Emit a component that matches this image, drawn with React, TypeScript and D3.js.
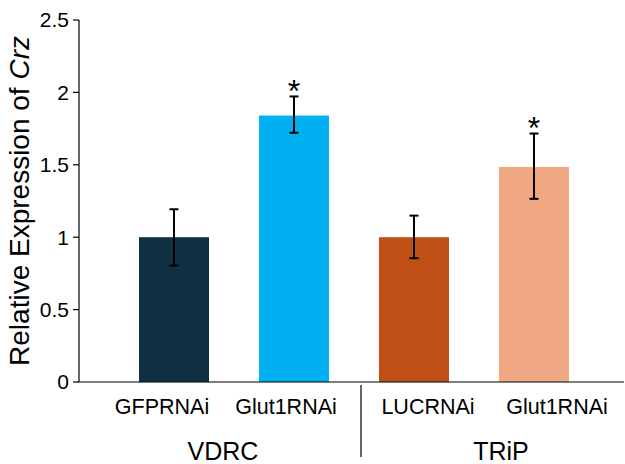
import React from "react";
import * as d3 from "d3";

const categories = ["GFPRNAi", "Glut1RNAi", "LUCRNAi", "Glut1RNAi"];
const values = [1.0, 1.84, 1.0, 1.485];
const errLow = [0.804, 1.721, 0.855, 1.265];
const errHigh = [1.193, 1.972, 1.149, 1.716];
const significant = [false, true, false, true];
const groups = ["VDRC", "TRiP"];
const groupMembers = [[0, 1], [2, 3]];
const yTicks = [0, 0.5, 1, 1.5, 2, 2.5];
const colors = ["#0E3042", "#00B0F0", "#C04F15", "#F1A983"];

const W = 625;
const H = 464;
const FONT = "'Liberation Sans', Arial, sans-serif";
const labelDx = [-12, -8, 14, 23];
const groupDx = [-11, 27];

export default function App() {
  const axisX = 79;
  const y = d3.scaleLinear().domain([0, 2.5]).range([382, 20]);
  const x = d3
    .scaleBand<number>()
    .domain(categories.map((_, i) => i))
    .range([114, 594])
    .paddingInner(50 / 120)
    .paddingOuter(25 / 120);
  const bw = x.bandwidth();
  const cx = (i: number) => (x(i) as number) + bw / 2;
  const divX = 361;

  return (
    <svg
      width={W}
      height={H}
      style={{ position: "absolute", left: 0, top: 0, background: "#fff" }}
      fontFamily={FONT}
    >
      <rect x={0} y={0} width={W} height={H} fill="#fff" />
      {values.map((v, i) => (
        <rect
          key={"b" + i}
          x={x(i)}
          y={y(v)}
          width={bw}
          height={y(0) - y(v)}
          fill={colors[i]}
        />
      ))}
      {values.map((_, i) => (
        <g key={"e" + i} stroke="#000" strokeWidth={2}>
          <line x1={cx(i)} x2={cx(i)} y1={y(errLow[i])} y2={y(errHigh[i])} />
          <line x1={cx(i) - 4.5} x2={cx(i) + 4.5} y1={y(errLow[i])} y2={y(errLow[i])} />
          <line x1={cx(i) - 4.5} x2={cx(i) + 4.5} y1={y(errHigh[i])} y2={y(errHigh[i])} />
        </g>
      ))}
      {values.map((_, i) =>
        significant[i] ? (
          <text
            key={"s" + i}
            x={cx(i)}
            y={y(errHigh[i]) - 13 + 0.57 * 32}
            fontSize={32}
            textAnchor="middle"
            fill="#000"
          >
            *
          </text>
        ) : null
      )}
      <line x1={axisX} x2={axisX} y1={y(2.5)} y2={y(0)} stroke="#000" strokeWidth={1.2} />
      {yTicks.map((t) => (
        <g key={"t" + t}>
          <line x1={axisX - 6} x2={axisX} y1={y(t)} y2={y(t)} stroke="#000" strokeWidth={1.2} />
          <text
            x={axisX - 10}
            y={y(t)}
            dy="0.35em"
            fontSize={21}
            textAnchor="end"
            fill="#000"
          >
            {String(t)}
          </text>
        </g>
      ))}
      <line x1={axisX} x2={624} y1={y(0)} y2={y(0)} stroke="#000" strokeWidth={1.2} />
      <line x1={divX} x2={divX} y1={385} y2={457} stroke="#000" strokeWidth={1.2} />
      {categories.map((c, i) => (
        <text
          key={"c" + i}
          x={cx(i) + labelDx[i]}
          y={414}
          fontSize={21.5}
          textAnchor="middle"
          fill="#000"
        >
          {c}
        </text>
      ))}
      {groups.map((g, gi) => {
        const m = groupMembers[gi];
        const mid = (cx(m[0]) + cx(m[m.length - 1])) / 2;
        return (
          <text
            key={"g" + gi}
            x={mid + groupDx[gi]}
            y={460}
            fontSize={25}
            textAnchor="middle"
            fill="#000"
          >
            {g}
          </text>
        );
      })}
      <text
        transform={`translate(29, ${(y(0) + y(2.5)) / 2}) rotate(-90)`}
        fontSize={28}
        textAnchor="middle"
        fill="#000"
      >
        Relative Expression of <tspan fontStyle="italic">Crz</tspan>
      </text>
    </svg>
  );
}
